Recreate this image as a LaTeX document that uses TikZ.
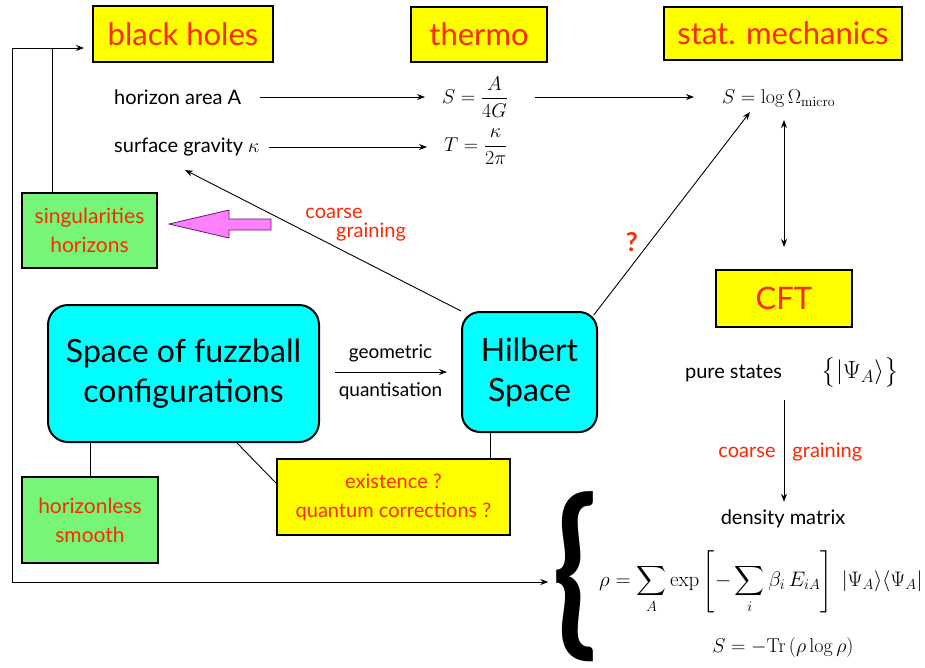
\RequirePackage{fix-cm}
\documentclass[tikz,border=0pt]{standalone}
\usepackage{amsmath}
\usepackage{graphicx}
\usepackage[no-math]{fontspec}
\setmainfont{Lato}
\usetikzlibrary{arrows.meta}
\definecolor{yel}{RGB}{255,255,0}
\definecolor{txtred}{RGB}{255,40,0}
\definecolor{grn}{RGB}{118,245,118}
\definecolor{cyn}{RGB}{0,255,255}
\definecolor{pnk}{RGB}{255,128,255}
\definecolor{pnkedge}{RGB}{110,20,110}
\tikzset{
  titlebox/.style={draw=black, line width=2pt, fill=yel, text=txtred, inner sep=0pt,
    font=\fontsize{31}{32}\selectfont},
  greenbox/.style={draw=black, line width=2pt, fill=grn, text=txtred, inner sep=0pt,
    align=center, font=\fontsize{21}{29}\selectfont},
  cyanbox/.style={draw=black, line width=2pt, fill=cyn, text=black, inner sep=0pt,
    align=center, rounded corners=20pt, font=\fontsize{32}{40}\selectfont},
  plain/.style={inner sep=1pt, font=\fontsize{20}{24}\selectfont},
  mathtxt/.style={inner sep=1pt, font=\fontsize{20}{24}\selectfont},
  redlbl/.style={inner sep=1pt, text=txtred, font=\fontsize{20}{22}\selectfont},
  conn/.style={line width=0.9pt, -{Stealth[length=8pt,width=6pt]}},
  dconn/.style={line width=0.9pt, {Stealth[length=8pt,width=6pt]}-{Stealth[length=8pt,width=6pt]}},
  link/.style={line width=0.9pt}
}
\begin{document}
\begin{tikzpicture}[x=1pt,y=-1pt]
\fill[white] (0,0) rectangle (925,667);
\useasboundingbox (0,0) rectangle (925,667);

% title boxes
\node[titlebox, minimum width=180pt, minimum height=56pt] (bh) at (183,34) {black holes};
\node[titlebox, minimum width=136pt, minimum height=55pt] (th) at (479,34) {thermo};
\node[titlebox, minimum width=238pt, minimum height=53pt] (sm) at (783,33.5) {stat. mechanics};
\node[titlebox, minimum width=136pt, minimum height=57pt] (cft) at (784,298.5) {CFT};

% formulas row
\node[plain, anchor=west] (hor) at (113,97) {horizon area A};
\node[plain, anchor=west] (sg) at (113,147) {surface gravity $\kappa$};
\node[mathtxt, anchor=west] (SA) at (441,97) {$S=\dfrac{A}{4G}$};
\node[mathtxt, anchor=west] (TK) at (443,147) {$T=\dfrac{\kappa}{2\pi}$};
\node[mathtxt, anchor=west] (SL) at (721,98) {$S=\log\Omega_{\mathrm{micro}}$};

\draw[conn, shorten <=18pt, shorten >=16pt] (hor.east) -- (hor.east -| SA.west);
\draw[conn, shorten <=26pt, shorten >=27pt] (SA.east |- hor.east) -- (SA.east -| SL.west);
\draw[conn, shorten <=8pt, shorten >=16pt] (sg.east) -- (sg.east -| TK.west);

\coordinate (smtop) at (784,120);
\draw[dconn, shorten >=22pt] (smtop) -- (cft.north);

% green boxes
\node[greenbox, minimum width=135pt, minimum height=75pt] (sing) at (89.5,230.5) {singularities\\horizons};
\node[greenbox, minimum width=136pt, minimum height=86pt] (hls) at (90,520) {horizonless\\smooth};

% pink arrow
\draw[fill=pnk, draw=pnkedge, line width=0.8pt] (271,219) -- (229,219) -- (229,210) -- (169,224) -- (229,238) -- (229,230) -- (271,230) -- cycle;

% cyan boxes
\node[cyanbox, minimum width=271pt, minimum height=137pt] (fuzz) at (183.5,373.5) {Space of fuzzball\\configurations};
\node[cyanbox, minimum width=135pt, minimum height=120pt, rounded corners=18pt] (hil) at (529.5,372) {Hilbert\\Space};

% existence box
\node[titlebox, align=center, minimum width=233pt, minimum height=76pt,
      font=\fontsize{20}{29}\selectfont] (ex) at (393.5,497) {existence ?\\quantum corrections ?};

% geometric quantisation
\draw[conn, shorten <=15pt, shorten >=14pt] (fuzz.east |- hil.west) -- (hil.west)
  node[midway, above=9pt, plain, font=\fontsize{19}{22}\selectfont] (geo) {geometric}
  node[midway, below=9pt, plain, font=\fontsize{19}{22}\selectfont] (qua) {quantisation};

% coarse graining arrow
\coordinate (cgtip) at (185,170);
\draw[conn] (hil.north west) -- (cgtip);
\node[redlbl] (cg1) at (334,213) {coarse};
\node[redlbl] (cg2) at (371,232) {graining};

% ? arrow
\coordinate (qtip) at (750,112);
\draw[conn, shorten <=1pt] ([xshift=-5pt,yshift=-5pt]hil.north east) -- (qtip)
  node[pos=0.36, left=8pt, text=txtred, font=\fontsize{26}{28}\selectfont\bfseries] (qm) {?};

% connector lines
\draw[link] (fuzz.south -| hls.north) -- (hls.north);
\draw[link] ([xshift=53.5pt]fuzz.south) -- ([yshift=14pt]ex.west);
\draw[link] ([xshift=-39.5pt]hil.south) -- ([xshift=-39.5pt]hil.south |- ex.north);

% right column
\node[plain] (ps) at (733.5,373) {pure states};
\node[mathtxt, font=\fontsize{25}{28}\selectfont] (psi) at (860,372) {$\bigl\{|\Psi_A\rangle\bigr\}$};
\node[plain] (dm) at (783,519) {density matrix};
\coordinate (pstop) at (784,400);
\draw[conn, shorten >=7pt] (pstop) -- (dm.north -| pstop)
  node[pos=0.48, left=7pt, redlbl] (cgl) {coarse}
  node[pos=0.48, right=7pt, redlbl] (cgr) {graining};

\node[inner sep=0pt] (brace) at (575,577) {\resizebox*{45pt}{170pt}{\bfseries\{}};
\node[mathtxt, anchor=west, font=\fontsize{21}{26}\selectfont] (rho) at (598,582)
  {$\displaystyle \rho=\sum_A \exp\left[-\sum_i \beta_i\,E_{iA}\right]\;|\Psi_A\rangle\langle\Psi_A|$};
\node[mathtxt] (ent) at (783,647) {$S=-\mathrm{Tr}\,(\rho\log\rho)$};

% feedback loop
\coordinate (c1) at (12,48);
\coordinate (c2) at (12,582);
\draw[dconn] ([xshift=-8pt,yshift=-14pt]bh.west) -- (c1) -- (c2) -- ([xshift=-4pt]brace.west |- c2);
\draw[link] ([xshift=-37.5pt]sing.north) -- ([xshift=-37.5pt]sing.north |- c1);
\end{tikzpicture}
\end{document}
